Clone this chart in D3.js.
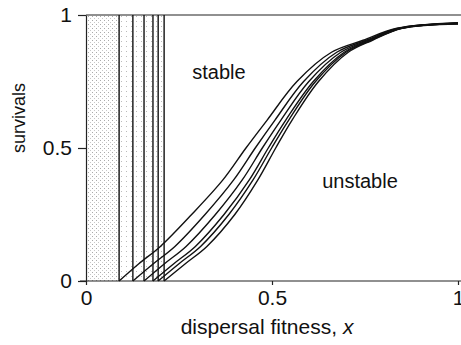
<!DOCTYPE html>
<html>
<head>
<meta charset="utf-8">
<script src="https://cdn.jsdelivr.net/npm/d3@7"></script>
<style>
  html, body { margin: 0; padding: 0; background: #fff; }
  svg { display: block; font-family: "Liberation Sans", Arial, sans-serif; }
</style>
</head>
<body>
<div class="container"></div>
<script>
// threshold dispersal fitness of each curve (vertical line position)
const thresholds = [0.089, 0.126, 0.156, 0.180, 0.194, 0.210];

// survival curves as [x, survivals]
const curveA = [[0.089, 0], [0.142, 0.065], [0.200, 0.13], [0.284, 0.25], [0.368, 0.38], [0.430, 0.5], [0.487, 0.605], [0.567, 0.75], [0.660, 0.86], [0.745, 0.905], [0.836, 0.95], [1.0, 0.971]];
const curveB = [[0.126, 0], [0.181, 0.065], [0.239, 0.13], [0.320, 0.25], [0.397, 0.38], [0.455, 0.5], [0.508, 0.605], [0.585, 0.75], [0.674, 0.86], [0.753, 0.905], [0.840, 0.95], [1.0, 0.970]];
const curveC = [[0.156, 0], [0.211, 0.065], [0.269, 0.13], [0.348, 0.25], [0.420, 0.38], [0.474, 0.5], [0.524, 0.605], [0.599, 0.75], [0.685, 0.86], [0.759, 0.905], [0.844, 0.95], [1.0, 0.969]];
const curveD = [[0.180, 0], [0.236, 0.065], [0.294, 0.13], [0.371, 0.25], [0.439, 0.38], [0.490, 0.5], [0.537, 0.605], [0.611, 0.75], [0.694, 0.86], [0.764, 0.905], [0.847, 0.95], [1.0, 0.968]];
const curveE = [[0.194, 0], [0.250, 0.065], [0.308, 0.13], [0.384, 0.25], [0.449, 0.38], [0.499, 0.5], [0.545, 0.605], [0.617, 0.75], [0.699, 0.86], [0.767, 0.905], [0.848, 0.95], [1.0, 0.967]];
const curveF = [[0.210, 0], [0.267, 0.065], [0.325, 0.13], [0.400, 0.25], [0.462, 0.38], [0.510, 0.5], [0.554, 0.605], [0.625, 0.75], [0.705, 0.86], [0.770, 0.905], [0.850, 0.95], [1.0, 0.966]];
const curves = [curveA, curveB, curveC, curveD, curveE, curveF];

const xTicks = [0, 0.5, 1];
const yTicks = [0, 0.5, 1];

const WIDTH = 461, HEIGHT = 345;
const MARGIN = { top: 15, right: 3, bottom: 64, left: 86 };
const FONT = 21;

const svg = d3.select(".container").append("svg")
  .attr("width", WIDTH)
  .attr("height", HEIGHT);

const x = d3.scaleLinear().domain([0, 1]).range([MARGIN.left, WIDTH - MARGIN.right]);
const y = d3.scaleLinear().domain([0, 1]).range([HEIGHT - MARGIN.bottom, MARGIN.top]);

// stipple patterns
const defs = svg.append("defs");
const dense = defs.append("pattern")
  .attr("id", "dense").attr("patternUnits", "userSpaceOnUse")
  .attr("width", 4).attr("height", 4);
dense.append("rect").attr("x", 0).attr("y", 0).attr("width", 1).attr("height", 1).attr("fill", "#aaa");
dense.append("rect").attr("x", 2).attr("y", 2).attr("width", 1).attr("height", 1).attr("fill", "#c8c8c8");
const sparse = defs.append("pattern")
  .attr("id", "sparse").attr("patternUnits", "userSpaceOnUse")
  .attr("width", 5).attr("height", 5);
sparse.append("rect").attr("x", 1).attr("y", 1).attr("width", 1).attr("height", 1).attr("fill", "#bbb");

svg.append("rect")
  .attr("x", x(0)).attr("y", y(1))
  .attr("width", x(thresholds[0]) - x(0))
  .attr("height", y(0) - y(1))
  .attr("fill", "url(#dense)");

svg.append("rect")
  .attr("x", x(thresholds[0])).attr("y", y(1))
  .attr("width", x(thresholds[thresholds.length - 1]) - x(thresholds[0]))
  .attr("height", y(0) - y(1))
  .attr("fill", "url(#sparse)");

// axes
const xAxis = svg.append("g")
  .attr("transform", `translate(0,${y(0)})`)
  .call(d3.axisBottom(x).tickValues(xTicks).tickFormat(d3.format("")).tickSize(4).tickSizeOuter(0).tickPadding(5));
xAxis.select(".domain").attr("d", `M${x(0) - 6},0H${WIDTH}`);

svg.append("g")
  .attr("transform", `translate(${x(0)},0)`)
  .call(d3.axisLeft(y).tickValues(yTicks).tickFormat(d3.format("")).tickSize(8).tickSizeOuter(0).tickPadding(6));

svg.selectAll(".tick text")
  .attr("font-size", FONT)
  .attr("font-family", "Liberation Sans, Arial, sans-serif")
  .attr("fill", "#111");
svg.selectAll(".domain, .tick line").attr("stroke", "#222").attr("stroke-width", 1.2);

// top boundary at survivals = 1
svg.append("line")
  .attr("x1", x(0)).attr("x2", WIDTH)
  .attr("y1", y(1)).attr("y2", y(1))
  .attr("stroke", "#222").attr("stroke-width", 1.2);

// vertical threshold lines
svg.append("g")
  .selectAll("line")
  .data(thresholds)
  .enter()
  .append("line")
  .attr("x1", d => x(d)).attr("x2", d => x(d))
  .attr("y1", y(0)).attr("y2", y(1))
  .attr("stroke", "#111")
  .attr("stroke-width", 1.4);

const line = d3.line()
  .x(d => x(d[0]))
  .y(d => y(d[1]))
  .curve(d3.curveCatmullRom.alpha(0.5));

svg.append("g")
  .selectAll("path")
  .data(curves)
  .enter()
  .append("path")
  .attr("d", line)
  .attr("fill", "none")
  .attr("stroke", "#111")
  .attr("stroke-width", 1.4);

// region labels
svg.append("text")
  .attr("x", 219).attr("y", 79)
  .attr("text-anchor", "middle")
  .attr("font-size", FONT - 1)
  .attr("fill", "#111")
  .text("stable");

svg.append("text")
  .attr("x", 360).attr("y", 188)
  .attr("text-anchor", "middle")
  .attr("font-size", FONT - 1)
  .attr("fill", "#111")
  .text("unstable");

// axis titles
const xTitle = svg.append("text")
  .attr("x", 267).attr("y", 334)
  .attr("text-anchor", "middle")
  .attr("font-size", FONT)
  .attr("fill", "#111");
xTitle.append("tspan").text("dispersal fitness, ");
xTitle.append("tspan").attr("font-style", "italic").text("x");

svg.append("text")
  .attr("transform", "translate(25,118) rotate(-90)")
  .attr("text-anchor", "middle")
  .attr("font-size", 18)
  .attr("fill", "#111")
  .text("survivals");
</script>
</body>
</html>
